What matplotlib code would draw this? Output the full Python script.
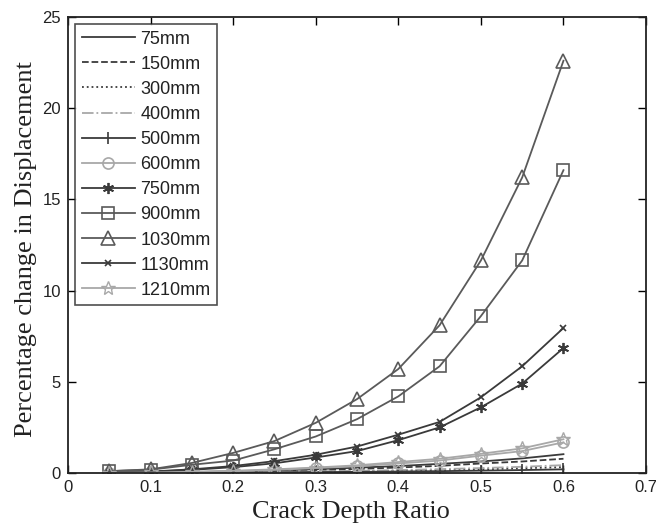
import matplotlib
matplotlib.use("Agg")
import matplotlib.pyplot as plt

crack_ratio = [0.05, 0.10, 0.15, 0.20, 0.25, 0.30, 0.35, 0.40, 0.45, 0.50, 0.55, 0.60]

labels = ["75mm", "150mm", "300mm", "400mm", "500mm", "600mm", "750mm",
          "900mm", "1030mm", "1130mm", "1210mm"]

d75   = [0.00, 0.02, 0.05, 0.09, 0.14, 0.21, 0.29, 0.38, 0.50, 0.63, 0.80, 1.03]
d150  = [0.00, 0.02, 0.04, 0.07, 0.11, 0.16, 0.22, 0.30, 0.39, 0.52, 0.63, 0.78]
d300  = [0.00, 0.01, 0.02, 0.03, 0.05, 0.07, 0.09, 0.12, 0.16, 0.20, 0.26, 0.32]
d400  = [0.00, 0.01, 0.02, 0.04, 0.06, 0.09, 0.12, 0.16, 0.21, 0.27, 0.34, 0.43]
d500  = [0.00, 0.005, 0.01, 0.02, 0.03, 0.05, 0.06, 0.08, 0.10, 0.13, 0.16, 0.20]
d600  = [0.01, 0.03, 0.05, 0.10, 0.17, 0.27, 0.37, 0.52, 0.68, 0.95, 1.20, 1.68]
d750  = [0.02, 0.07, 0.17, 0.32, 0.53, 0.85, 1.20, 1.80, 2.50, 3.60, 4.90, 6.85]
d900  = [0.10, 0.18, 0.45, 0.68, 1.30, 2.00, 2.95, 4.20, 5.85, 8.60, 11.65, 16.60]
d1030 = [0.10, 0.20, 0.55, 1.10, 1.75, 2.75, 4.05, 5.70, 8.10, 11.65, 16.20, 22.60]
d1130 = [0.02, 0.08, 0.20, 0.38, 0.65, 1.00, 1.45, 2.10, 2.80, 4.15, 5.85, 7.95]
d1210 = [0.01, 0.03, 0.06, 0.12, 0.20, 0.30, 0.42, 0.60, 0.78, 1.05, 1.35, 1.85]

series = [d75, d150, d300, d400, d500, d600, d750, d900, d1030, d1130, d1210]

dark = "#3a3a3a"
mid = "#5a5a5a"
light = "#a8a8a8"
styles = [
    dict(color=dark, ls="-", marker=None),
    dict(color=dark, ls="--", marker=None),
    dict(color=dark, ls=":", marker=None),
    dict(color=light, ls="-.", marker=None),
    dict(color=dark, ls="-", marker="|", ms=9, mew=1.2),
    dict(color=light, ls="-", marker="o", ms=8, mfc="none", mew=1.2),
    dict(color=dark, ls="-", marker=(6, 2, 0), ms=8, mew=1.3),
    dict(color=mid, ls="-", marker="s", ms=8, mfc="none", mew=1.2),
    dict(color=mid, ls="-", marker="^", ms=9.5, mfc="none", mew=1.2),
    dict(color=dark, ls="-", marker="x", ms=5, mew=1.2),
    dict(color=light, ls="-", marker="*", ms=10, mfc="none", mew=1.0),
]

fig = plt.figure(figsize=(6.56, 5.29), dpi=100)
ax = fig.add_axes([0.1037, 0.1059, 0.8811, 0.862])

for lab, vals, st in zip(labels, series, styles):
    st = dict(st)
    color = st.pop("color")
    ls = st.pop("ls")
    marker = st.pop("marker")
    ax.plot(crack_ratio, vals, color=color, linestyle=ls, marker=marker,
            lw=1.3, label=lab, **st)

ax.set_xlim(0, 0.7)
ax.set_ylim(0, 25)
ax.set_xticks([0, 0.1, 0.2, 0.3, 0.4, 0.5, 0.6, 0.7])
ax.set_xticklabels(["0", "0.1", "0.2", "0.3", "0.4", "0.5", "0.6", "0.7"])
ax.set_yticks([0, 5, 10, 15, 20, 25])
ax.tick_params(direction="in", top=True, right=True, length=6, width=1,
               labelsize=12, pad=5)
for lbl in ax.get_xticklabels() + ax.get_yticklabels():
    lbl.set_fontfamily("Liberation Sans")
    lbl.set_color("#222222")
for sp in ax.spines.values():
    sp.set_linewidth(1.3)
    sp.set_color("#222222")

ax.set_xlabel("Crack Depth Ratio", fontfamily="Liberation Serif", fontsize=19,
              color="#222222")
ax.set_ylabel("Percentage change in Displacement", fontfamily="Liberation Serif",
              fontsize=19, color="#222222")
ax.xaxis.set_label_coords(0.49, -0.062)
ax.yaxis.set_label_coords(-0.054, 0.49)

leg = ax.legend(loc="upper left", prop={"family": "Liberation Sans", "size": 13},
                handlelength=2.95, handletextpad=0.3, labelspacing=0.45,
                borderpad=0.35, borderaxespad=0.4, fancybox=False, frameon=True)
leg.get_frame().set_edgecolor("#222222")
leg.get_frame().set_linewidth(1.2)
for t in leg.get_texts():
    t.set_color("#222222")

fig.savefig("out.png", dpi=100)
